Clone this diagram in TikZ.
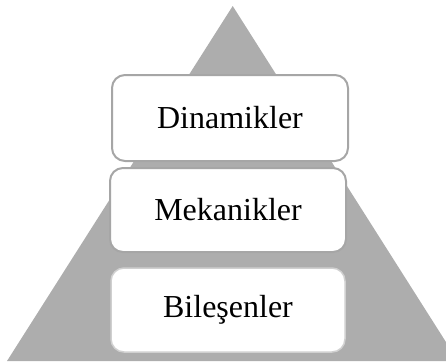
\documentclass[tikz,border=0pt]{standalone}
\usepackage{fontspec}
\setmainfont{Liberation Serif}
\definecolor{pyr}{HTML}{ADADAD}
\definecolor{edge}{HTML}{A6A6A6}
\definecolor{edgelight}{HTML}{D0D0D0}
\begin{document}
\begin{tikzpicture}[x=1pt,y=-1pt,
  level/.style={draw=edge,line width=2pt,fill=white,rounded corners=13pt,
    minimum width=236pt,minimum height=86pt,inner sep=0pt,
    font=\fontsize{32}{38}\selectfont}]
\useasboundingbox (0,0) rectangle (446,362);
\begin{scope}
\clip (0,0) rectangle (446,362);
\fill[pyr] (232.7,6) -- (7,361) -- (458,361) -- cycle;
\end{scope}
\node[level] (dyn) at (230,118) {Dinamikler};
\node[level,minimum height=84pt] (mech) at (228,210) {Mekanikler};
\node[level,draw=edgelight,line width=1.5pt,minimum width=234pt,minimum height=84pt] (comp) at (228,310) {Bileşenler};
\end{tikzpicture}
\end{document}
